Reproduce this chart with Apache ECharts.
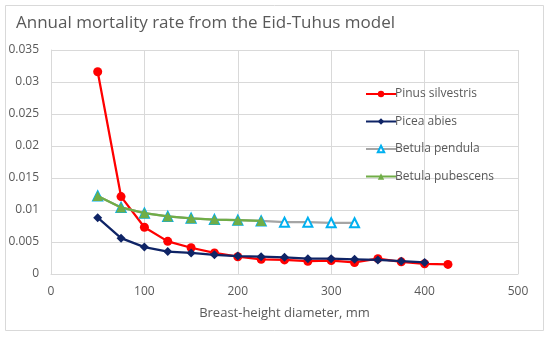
<!DOCTYPE html>
<html>
<head>
<meta charset="utf-8">
<script src="https://cdn.jsdelivr.net/npm/echarts@6/dist/echarts.min.js"></script>
<style>
html,body{margin:0;padding:0;background:#fff;}
#chart{width:550px;height:337px;}
</style>
</head>
<body>
<div id="chart"></div>
<script>
const diameters = [50, 75, 100, 125, 150, 175, 200, 225, 250, 275, 300, 325, 350, 375, 400, 425];
const pinusSilvestris = [0.0316, 0.0121, 0.0073, 0.0051, 0.0041, 0.0033, 0.0027, 0.0023, 0.0022, 0.0020, 0.0021, 0.0018, 0.0024, 0.0019, 0.0016, 0.0015];
const piceaAbies = [0.0088, 0.0056, 0.0042, 0.0035, 0.0033, 0.0030, 0.0028, 0.0027, 0.0026, 0.0024, 0.0024, 0.0023, 0.0022, 0.0020, 0.0018];
const betulaPendula = [0.0122, 0.0104, 0.0095, 0.0090, 0.0087, 0.0085, 0.0084, 0.0083, 0.0081, 0.0081, 0.0080, 0.0080];
const betulaPubescens = [0.0122, 0.0104, 0.0095, 0.0090, 0.0087, 0.0085, 0.0084, 0.0083];
const yTicks = { min: 0, max: 0.035, interval: 0.005 };
const xTicks = { min: 0, max: 500, interval: 100 };

function pairs(vals) { return vals.map((v, i) => [diameters[i], v]); }

const font = '"Open Sans", "Noto Sans", sans-serif';
const textColor = '#595959';
const gridColor = '#d9d9d9';

const chart = echarts.init(document.getElementById('chart'), null, { renderer: 'canvas' });
chart.setOption({
  animation: false,
  backgroundColor: '#fff',
  textStyle: { fontFamily: font },
  graphic: [{
    type: 'rect', z: -10, silent: true,
    shape: { x: 5.5, y: 5.5, width: 538, height: 325 },
    style: { fill: '#fff', stroke: gridColor, lineWidth: 1 }
  }],
  title: {
    text: 'Annual mortality rate from the Eid-Tuhus model',
    left: 11, top: 10,
    textStyle: { fontFamily: font, fontSize: 17, fontWeight: 'normal', color: textColor }
  },
  grid: { left: 51, right: 32, top: 50, bottom: 63, containLabel: false },
  legend: {
    orient: 'vertical', left: 360, top: 83, itemGap: 15.5,
    itemWidth: 30, itemHeight: 8,
    textStyle: { fontFamily: font, fontSize: 12, color: textColor, padding: [0, 0, 0, -6] },
    data: ['Pinus silvestris', 'Picea abies', 'Betula pendula', 'Betula pubescens']
  },
  xAxis: {
    type: 'value', min: xTicks.min, max: xTicks.max, interval: xTicks.interval,
    name: 'Breast-height diameter, mm', nameLocation: 'middle', nameGap: 33,
    nameTextStyle: { fontFamily: font, fontSize: 13, color: textColor },
    axisLine: { show: true, lineStyle: { color: gridColor } },
    axisTick: { show: false },
    axisLabel: { fontFamily: font, fontSize: 12, color: textColor, margin: 12 },
    splitLine: { show: true, lineStyle: { color: gridColor, width: 1 } }
  },
  yAxis: {
    type: 'value', min: yTicks.min, max: yTicks.max, interval: yTicks.interval,
    axisLine: { show: true, lineStyle: { color: gridColor } },
    axisTick: { show: false },
    axisLabel: { fontFamily: font, fontSize: 12, color: textColor, margin: 12 },
    splitLine: { show: true, lineStyle: { color: gridColor, width: 1 } }
  },
  series: [
    {
      name: 'Pinus silvestris', type: 'line', data: pairs(pinusSilvestris),
      symbol: 'circle', symbolSize: 9,
      itemStyle: { color: '#ff0000' },
      lineStyle: { color: '#ff0000', width: 2.25 }, z: 2
    },
    {
      name: 'Picea abies', type: 'line', data: pairs(piceaAbies),
      symbol: 'diamond', symbolSize: 9,
      itemStyle: { color: '#0f2466' },
      lineStyle: { color: '#0f2466', width: 2.25 }, z: 3
    },
    {
      name: 'Betula pendula', type: 'line', data: pairs(betulaPendula),
      symbol: 'emptyTriangle', symbolSize: 9,
      itemStyle: { color: '#00b0f0', borderWidth: 1.5 },
      lineStyle: { color: '#a5a5a5', width: 2.25 }, z: 4
    },
    {
      name: 'Betula pubescens', type: 'line', data: pairs(betulaPubescens),
      symbol: 'triangle', symbolSize: 10,
      itemStyle: { color: '#70ad47' },
      lineStyle: { color: '#70ad47', width: 2.25 }, z: 5
    }
  ]
});
</script>
</body>
</html>
